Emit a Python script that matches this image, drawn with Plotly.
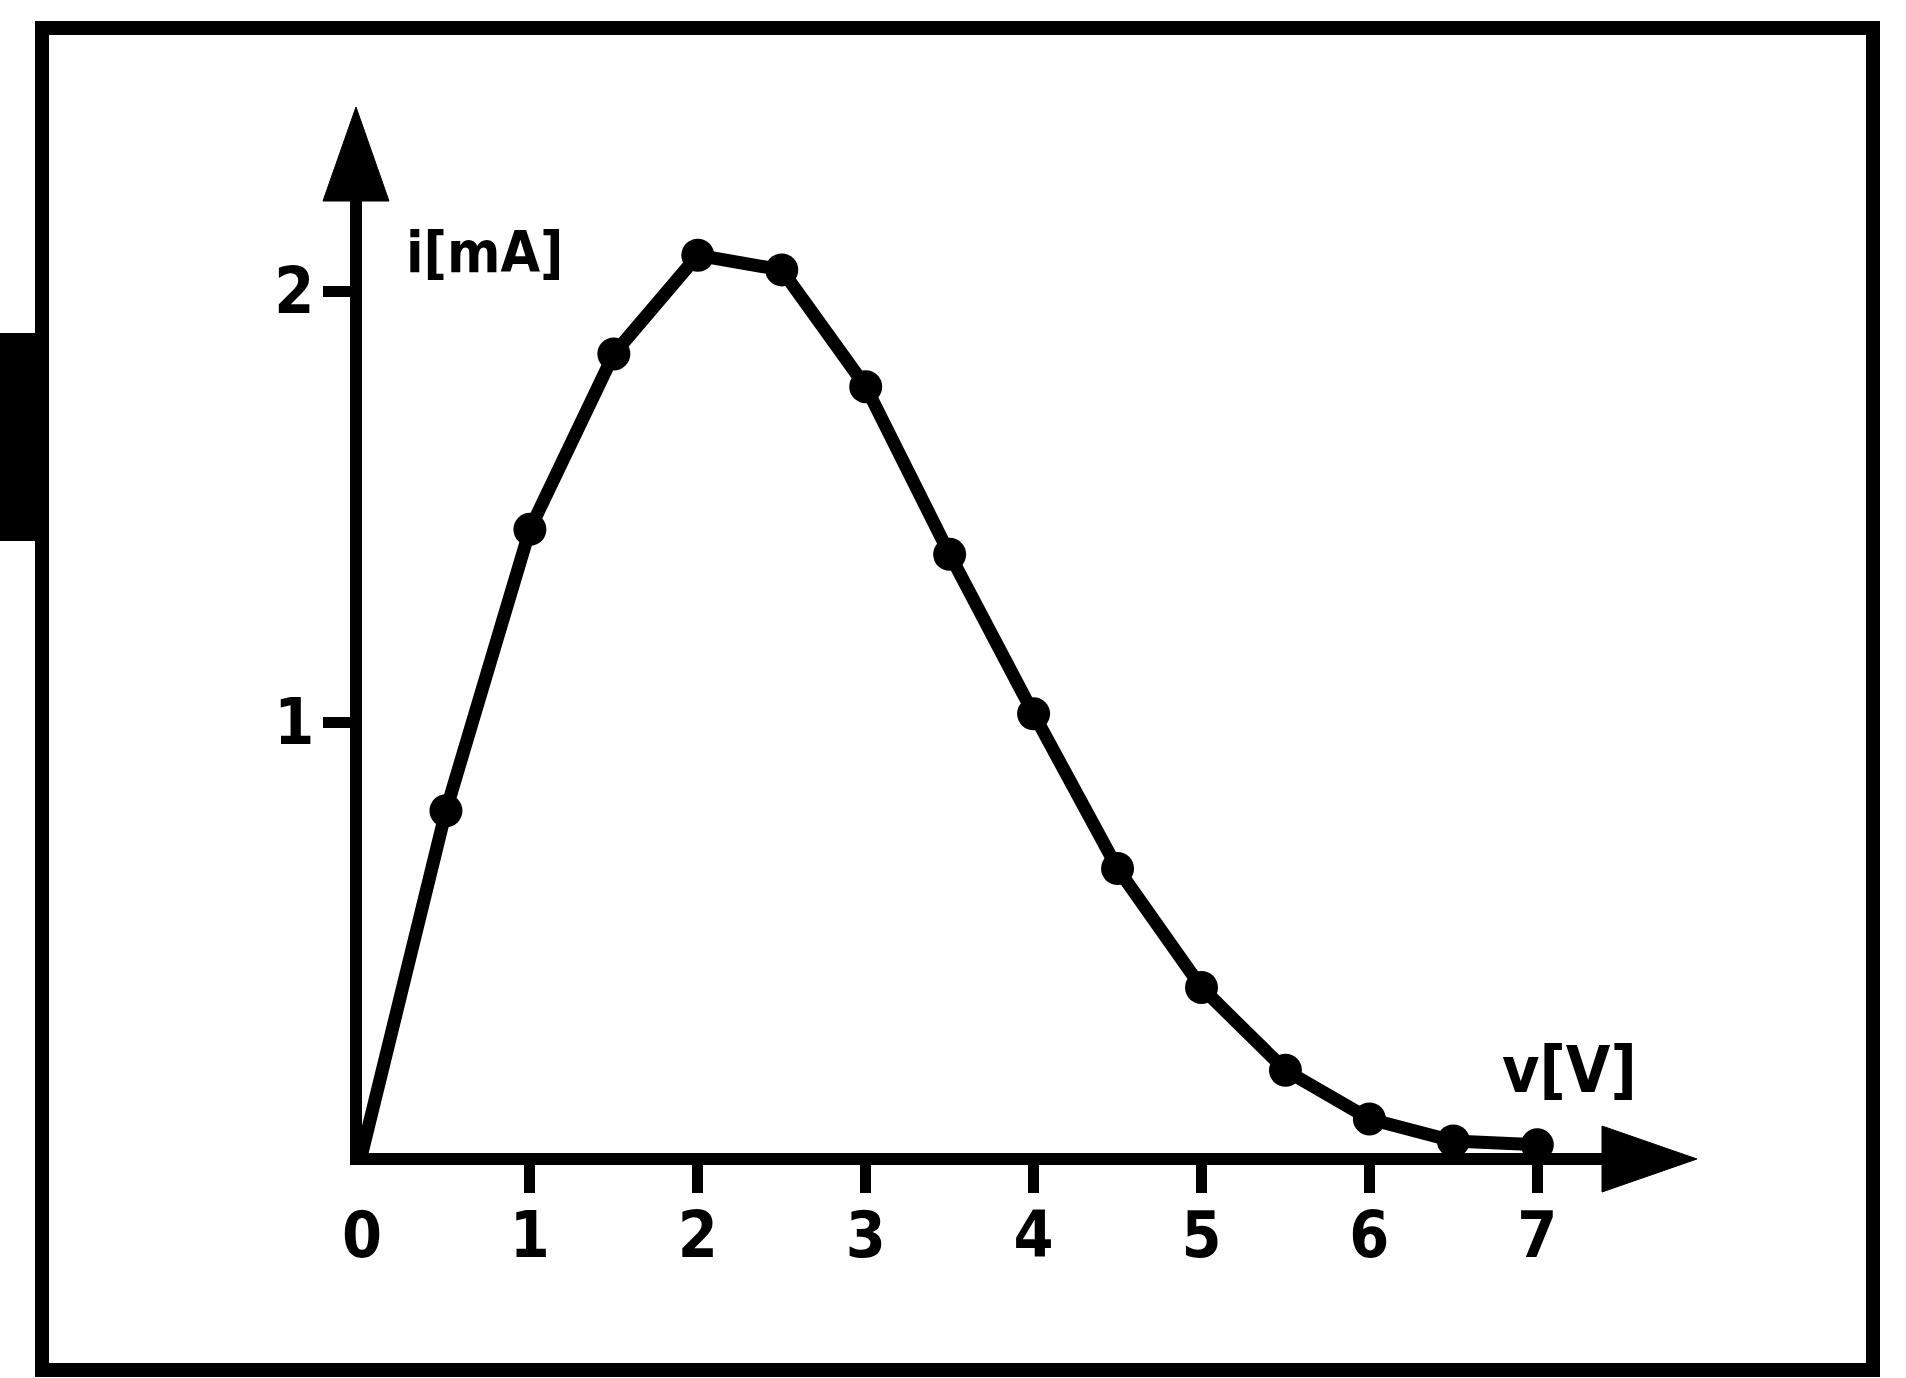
import plotly.graph_objects as go

# ---- data ----
V_VALUES = [0.0, 0.5, 1.0, 1.5, 2.0, 2.5, 3.0, 3.5, 4.0, 4.5, 5.0, 5.5, 6.0, 6.5, 7.0]
I_VALUES = [0.0, 0.794, 1.447, 1.854, 2.083, 2.049, 1.778, 1.389, 1.019, 0.660, 0.384, 0.192, 0.079, 0.028, 0.019]
X_TICK_LABELS = ["0", "1", "2", "3", "4", "5", "6", "7"]
X_TICK_VALUES = [0, 1, 2, 3, 4, 5, 6, 7]
X_TICK_MARKS = [1, 2, 3, 4, 5, 6, 7]
Y_TICK_VALUES = [1, 2]
Y_TICK_LABELS = ["1", "2"]
Y_TITLE = "i[mA]"
X_TITLE = "v[V]"

# ---- layout geometry (pixels) ----
W, H = 1906, 1378
LW = 12                                   # axis line width
L, R, T, B = 362, 1602, 201, 1153        # plot area edges
PX_PER_V = 167.9
PX_PER_MA = 431.0

xmin, xmax = 0.0, (R - L) / PX_PER_V
ymin, ymax = 0.0, (B - T) / PX_PER_MA


def paper_x(px):
    return (px - L) / (R - L)


def paper_y(py):
    return (B - py) / (B - T)


def px_path(points):
    pts = [f"{paper_x(x):.5f},{paper_y(y):.5f}" for x, y in points]
    return "M " + " L ".join(pts) + " Z"


FONT = dict(family="Liberation Sans Narrow, DejaVu Sans Condensed, DejaVu Sans",
            size=64, color="black", weight=700)

fig = go.Figure()

fig.add_trace(go.Scatter(
    x=V_VALUES, y=I_VALUES, mode="lines",
    line=dict(color="black", width=13),
    hoverinfo="skip", showlegend=False,
))
fig.add_trace(go.Scatter(
    x=V_VALUES[1:], y=I_VALUES[1:], mode="markers",
    marker=dict(color="black", size=33, symbol="circle"),
    cliponaxis=False, showlegend=False,
))
# invisible trace so the overlaying tick-mark axis is drawn
fig.add_trace(go.Scatter(
    x=[V_VALUES[0]], y=[I_VALUES[0]], mode="markers", xaxis="x2",
    marker=dict(opacity=0), hoverinfo="skip", showlegend=False,
))

yax_c = L - LW / 2      # centre of the y-axis line (px)
xax_c = B + LW / 2      # centre of the x-axis line (px)

shapes = [
    # outer frame
    dict(type="rect", xref="paper", yref="paper",
         x0=paper_x(42), x1=paper_x(1873), y0=paper_y(1370), y1=paper_y(28),
         line=dict(color="black", width=14), fillcolor="rgba(0,0,0,0)", layer="above"),
    # black bar at the left edge
    dict(type="rect", xref="paper", yref="paper",
         x0=paper_x(-5), x1=paper_x(42), y0=paper_y(541), y1=paper_y(333),
         line=dict(width=0), fillcolor="black", layer="above"),
    # y-axis arrow head
    dict(type="path", xref="paper", yref="paper",
         path=px_path([(yax_c - 33, T), (yax_c + 33, T), (yax_c, T - 94)]),
         fillcolor="black", line=dict(color="black", width=1), layer="above"),
    # x-axis arrow head
    dict(type="path", xref="paper", yref="paper",
         path=px_path([(R, xax_c - 33), (R, xax_c + 33), (R + 95, xax_c)]),
         fillcolor="black", line=dict(color="black", width=1), layer="above"),
]

annotations = [
    dict(text=Y_TITLE, x=0.25, y=2.09, xref="x", yref="y",
         xanchor="left", yanchor="middle", showarrow=False,
         font=dict(FONT, size=57)),
    dict(text=X_TITLE, x=7.19, y=0.192, xref="x", yref="y",
         xanchor="center", yanchor="middle", showarrow=False, font=FONT),
]

fig.update_layout(
    width=W, height=H,
    margin=dict(l=L, r=W - R, t=T, b=H - B, pad=0),
    paper_bgcolor="white", plot_bgcolor="white",
    showlegend=False,
    shapes=shapes, annotations=annotations,
    xaxis=dict(
        range=[xmin, xmax], showline=True, linewidth=LW, linecolor="black",
        tickmode="array", tickvals=X_TICK_VALUES, ticktext=X_TICK_LABELS,
        ticks="outside", ticklen=15, tickwidth=LW, tickcolor="rgba(0,0,0,0)",
        showgrid=False, zeroline=False, tickfont=FONT, fixedrange=True,
    ),
    xaxis2=dict(
        overlaying="x", matches="x", anchor="y", side="bottom",
        range=[xmin, xmax], showline=False,
        tickmode="array", tickvals=X_TICK_MARKS,
        ticks="outside", ticklen=27 + LW, tickwidth=LW - 1, tickcolor="black",
        showticklabels=False, showgrid=False, zeroline=False,
    ),
    yaxis=dict(
        range=[ymin, ymax], showline=True, linewidth=LW, linecolor="black",
        tickmode="array", tickvals=Y_TICK_VALUES, ticktext=Y_TICK_LABELS,
        ticks="outside", ticklen=27, tickwidth=LW - 1, tickcolor="black",
        ticklabelstandoff=-4,
        showgrid=False, zeroline=False, tickfont=FONT, fixedrange=True,
    ),
)

fig.write_html(
    "out.html",
    config={"displayModeBar": False},
    post_script="document.body.style.margin='0px';",
)
